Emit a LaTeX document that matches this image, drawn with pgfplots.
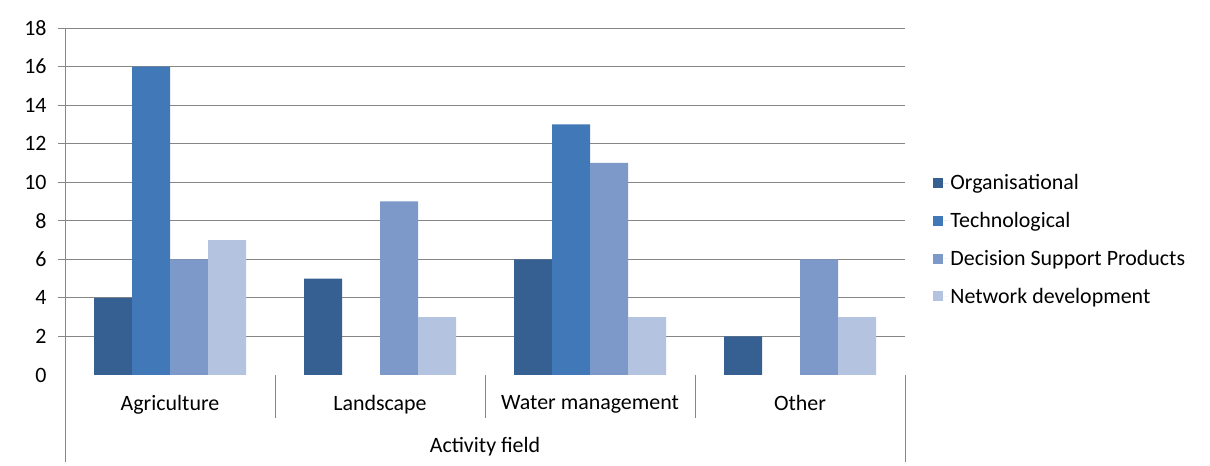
\documentclass[border=0pt]{standalone}
\usepackage{pgfplots}
\pgfplotsset{compat=1.18}
\usepackage{fontspec}
\setmainfont{Carlito}
\definecolor{corg}{RGB}{55,96,146}
\definecolor{ctech}{RGB}{65,120,183}
\definecolor{cdsp}{RGB}{124,153,201}
\definecolor{cnet}{RGB}{180,195,224}
\definecolor{gridc}{RGB}{134,134,134}
\begin{document}
\begin{tikzpicture}[x=1bp,y=1bp]
\useasboundingbox[fill=white] (0,0) rectangle (1210,466);
\begin{axis}[
  at={(65bp,91bp)}, anchor=south west,
  scale only axis, width=840bp, height=347bp,
  font=\fontsize{22}{26}\selectfont,
  ybar=0pt, bar width=38bp,
  xmin=-0.5, xmax=3.5, ymin=0, ymax=18,
  xtick={0,1,2,3},
  xticklabels={Agriculture,Landscape,Water management,Other},
  xtick style={draw=none},
  xticklabel style={yshift=-10bp},
  ytick={2,4,...,18},
  extra y ticks={0},
  extra y tick style={grid=none, tick style={draw=none}},
  ymajorgrids, grid style={gridc, line width=0.8pt},
  tick align=outside, major tick length=7bp,
  ytick style={gridc, line width=0.8pt},
  yticklabel style={xshift=-8bp},
  /pgf/number format/assume math mode=true,
  axis x line*=bottom, axis y line*=left,
  x axis line style={draw=none},
  y axis line style={draw=none},
  legend style={at={(1.03,0.39)}, anchor=west, draw=none, fill=none,
    font=\fontsize{22}{26}\selectfont, row sep=17bp, legend cell align=left},
  legend image code/.code={\fill[#1] (0bp,-5bp) rectangle (10bp,5bp); \path (0bp,0bp) -- (15bp,0bp);},
  clip=false,
]
\addplot[fill=corg, draw=none] coordinates {(0,4) (1,5) (2,6) (3,2)};
\addlegendentry{Organisational}
\addplot[fill=ctech, draw=none] coordinates {(0,16) (2,13)};
\addlegendentry{Technological}
\addplot[fill=cdsp, draw=none] coordinates {(0,6) (1,9) (2,11) (3,6)};
\addlegendentry{Decision Support Products}
\addplot[fill=cnet, draw=none] coordinates {(0,7) (1,3) (2,3) (3,3)};
\addlegendentry{Network development}
\draw[gridc, line width=0.8pt] (axis cs:-0.5,18) -- ([yshift=-87bp]axis cs:-0.5,0);
\draw[gridc, line width=0.8pt] (axis cs:0.5,0) -- ([yshift=-43bp]axis cs:0.5,0);
\draw[gridc, line width=0.8pt] (axis cs:1.5,0) -- ([yshift=-43bp]axis cs:1.5,0);
\draw[gridc, line width=0.8pt] (axis cs:2.5,0) -- ([yshift=-43bp]axis cs:2.5,0);
\draw[gridc, line width=0.8pt] (axis cs:3.5,0) -- ([yshift=-87bp]axis cs:3.5,0);
\node[font=\fontsize{22}{26}\selectfont] at ([yshift=-72bp]axis cs:1.5,0) {Activity field};
\end{axis}
\end{tikzpicture}
\end{document}
